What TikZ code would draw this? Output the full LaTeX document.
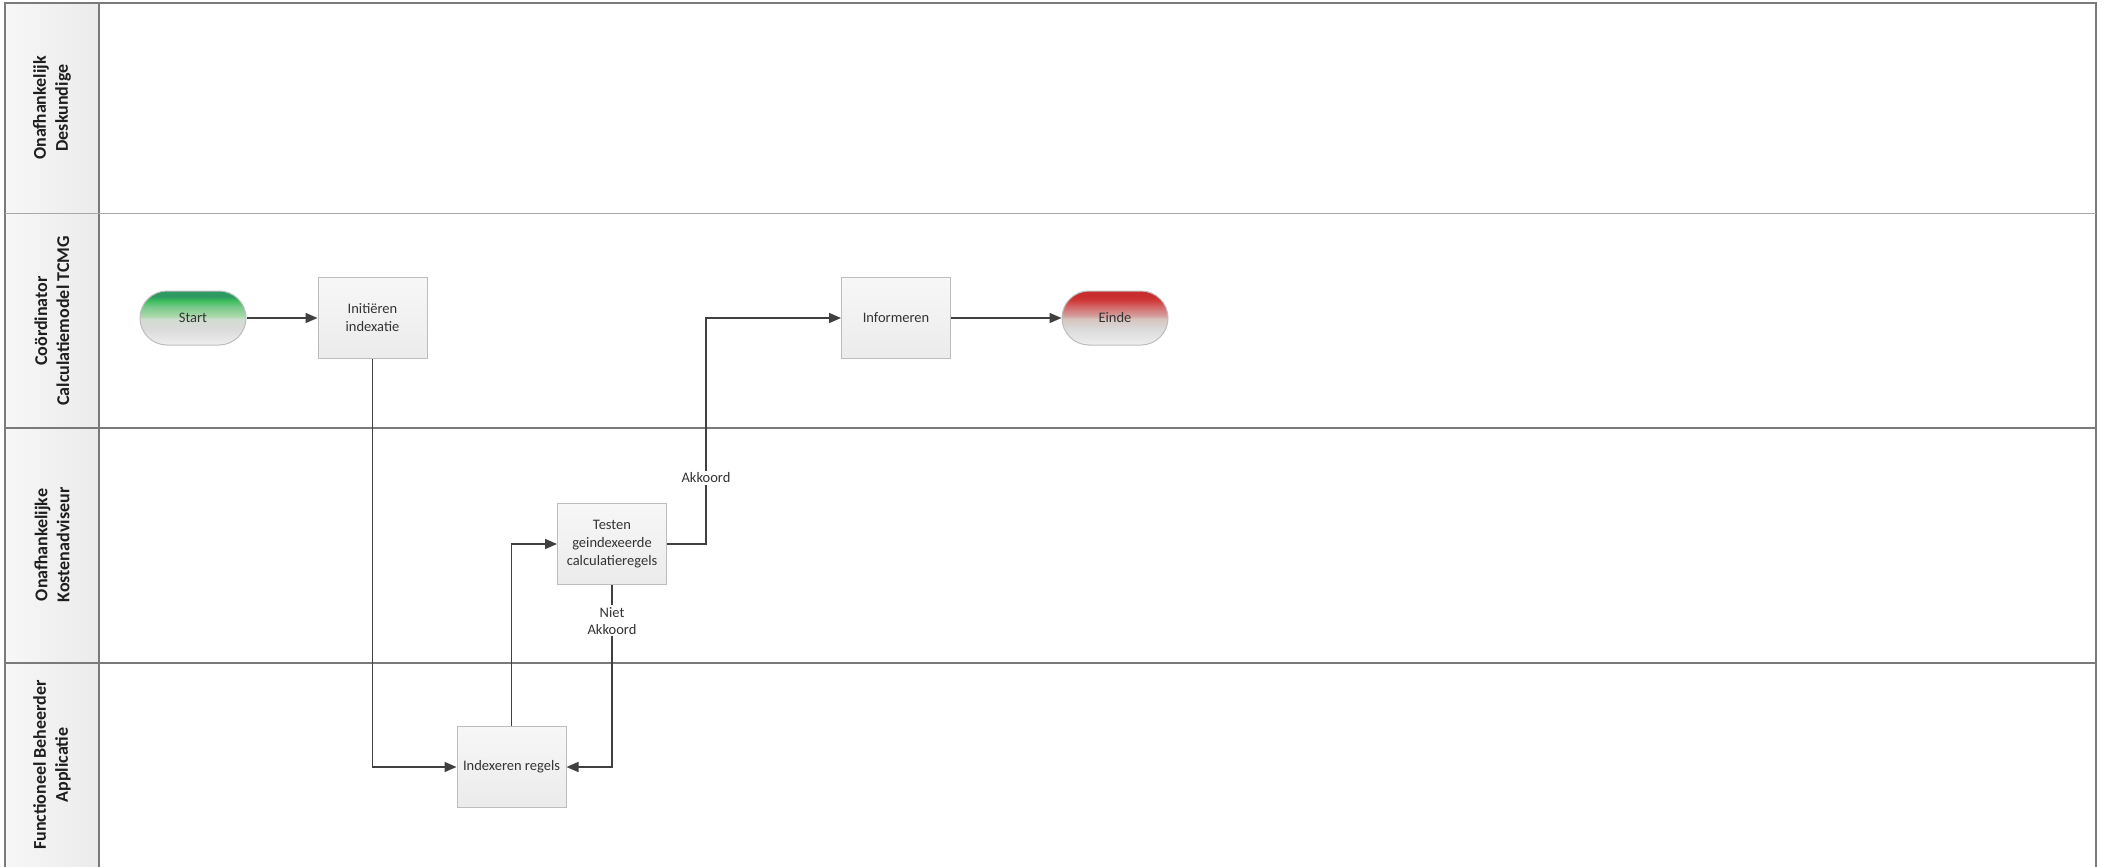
\documentclass[tikz,border=0pt]{standalone}
\usepackage{fontspec}
\setmainfont{Carlito}
\usetikzlibrary{arrows.meta,shapes.misc}
\definecolor{laneline}{HTML}{7A7A7A}
\definecolor{lanelight}{HTML}{A8A8A8}
\definecolor{hdrL}{HTML}{F7F7F7}
\definecolor{hdrR}{HTML}{EBEBEB}
\definecolor{boxborder}{HTML}{BDBDBD}
\definecolor{boxtop}{HTML}{F7F7F7}
\definecolor{boxbot}{HTML}{EBEBEB}
\definecolor{conn}{HTML}{404040}
\definecolor{txt}{HTML}{333333}
\definecolor{hdrtxt}{HTML}{1E1E1E}
\definecolor{gA}{HTML}{EEEEEE}
\definecolor{gB}{HTML}{DADADA}
\definecolor{gC}{HTML}{D0DDD0}
\definecolor{gD}{HTML}{A8D8A8}
\definecolor{gE}{HTML}{7CC98E}
\definecolor{gF}{HTML}{3EBF5C}
\definecolor{gG}{HTML}{2E9A62}
\definecolor{rC}{HTML}{D8C4BE}
\definecolor{rD}{HTML}{D4A0A0}
\definecolor{rE}{HTML}{D46A6A}
\definecolor{rF}{HTML}{D03C3C}
\definecolor{rG}{HTML}{C82E2E}
\pgfdeclareverticalshading{startsh}{100bp}{color(0bp)=(gA); color(25bp)=(gA); color(40bp)=(gB); color(49bp)=(gC); color(52bp)=(gD); color(60bp)=(gE); color(66bp)=(gF); color(70bp)=(gG); color(75bp)=(gG); color(100bp)=(gG)}
\pgfdeclareverticalshading{eindesh}{100bp}{color(0bp)=(gA); color(25bp)=(gA); color(40bp)=(gB); color(49bp)=(rC); color(52bp)=(rD); color(60bp)=(rE); color(66bp)=(rF); color(70bp)=(rG); color(75bp)=(rG); color(100bp)=(rG)}
\begin{document}
\begin{tikzpicture}[x=1pt,y=-1pt,
  lane/.style={draw=laneline,line width=1.6pt},
  lanesoft/.style={draw=lanelight,line width=1.4pt},
  hdr/.style={rotate=90,align=center,font=\fontsize{18}{22}\selectfont\bfseries,text=hdrtxt},
  proc/.style={draw=boxborder,line width=1pt,top color=boxtop,bottom color=boxbot,
    minimum width=109pt,minimum height=81pt,align=center,inner sep=2pt,
    font=\fontsize{14.5}{18}\selectfont,text=txt},
  term/.style={rounded rectangle,draw=boxborder,line width=1pt,
    minimum width=110pt,minimum height=54pt,inner sep=2pt,
    font=\fontsize{14.5}{18}\selectfont,text=txt},
  flow/.style={draw=conn,line width=1.6pt,-{Triangle[length=12pt,width=10pt]}},
  lbl/.style={fill=white,inner sep=2pt,align=center,font=\fontsize{14.5}{17}\selectfont,text=txt}]
\useasboundingbox (0,0) rectangle (2104,867);
\fill[white] (0,0) rectangle (2104,867);
% header column
\shade[left color=hdrL,right color=hdrR] (5,3) rectangle (99,870);
% lane frame
\draw[lane] (5,870) -- (5,3) -- (2096,3) -- (2096,870);
\draw[lane] (99,3) -- (99,870);
\draw[lanesoft] (5,213.5) -- (2096,213.5);
\draw[lane] (5,428) -- (2096,428);
\draw[lane] (5,663) -- (2096,663);
% lane headers
\node[hdr] (h1) at (52,108) {Onafhankelijk\\Deskundige};
\node[hdr] (h2) at (52,321) {Coördinator\\Calculatiemodel TCMG};
\node[hdr] (h3) at (52,545) {Onafhankelijke\\Kostenadviseur};
\node[hdr] (h4) at (52,765) {Functioneel Beheerder\\Applicatie};
% nodes
\node[term,shading=startsh] (start) at (193,318) {Start};
\node[proc] (init) at (372.5,318) {Initiëren\\indexatie};
\node[proc] (inform) at (896,318) {Informeren};
\node[term,shading=eindesh] (einde) at (1115,318) {Einde};
\node[proc] (test) at (612,544) {Testen\\geindexeerde\\calculatieregels};
\node[proc] (index) at (511.5,767) {Indexeren regels};
\coordinate (akk) at (706,544);
% connectors
\draw[flow] (start.east) -- (init.west);
\draw[flow] (init.south) |- (index.west);
\draw[flow] (index.north) |- (test.west);
\draw[flow] (test.east) -- (akk) |- node[lbl,pos=0.146] (lakk) {Akkoord} (inform.west);
\draw[flow] (test.south) |- node[lbl,pos=0.098] (lniet) {Niet\\Akkoord} (index.east);
\draw[flow] (inform.east) -- (einde.west);
\end{tikzpicture}
\end{document}
